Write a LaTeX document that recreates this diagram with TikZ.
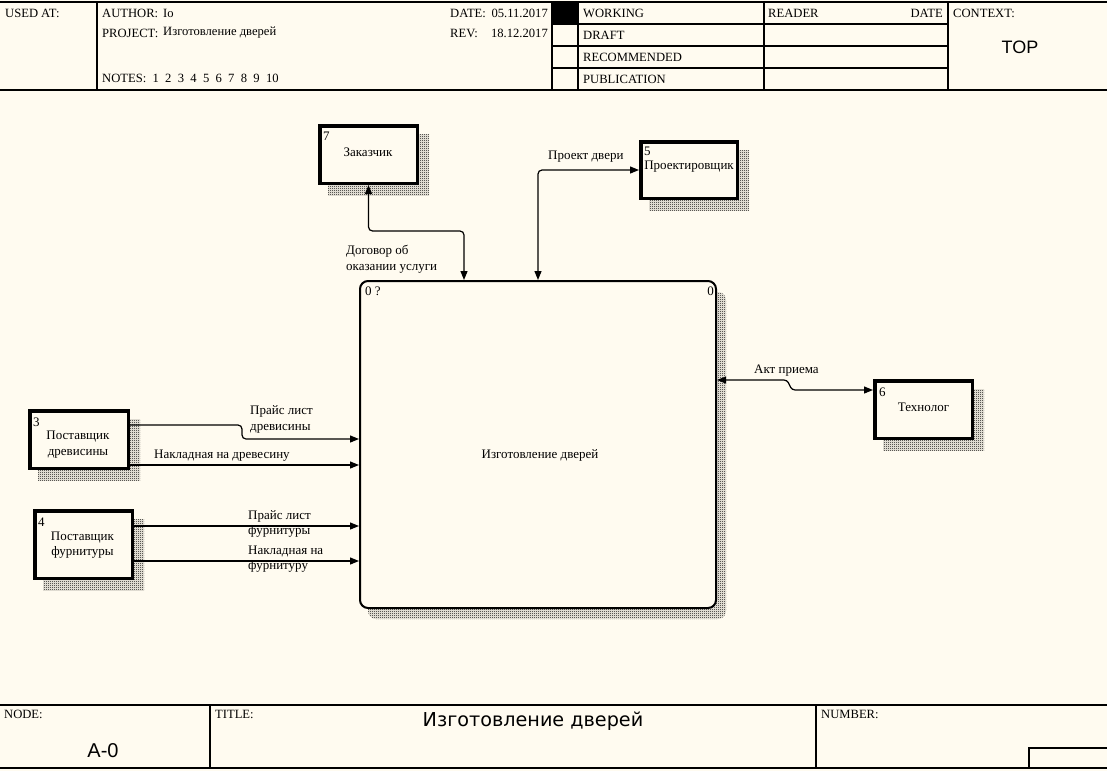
\documentclass[tikz,border=0pt]{standalone}
\usepackage{fontspec}
\setmainfont{Liberation Serif}
\newfontfamily\sansf{Liberation Sans}
\newfontfamily\titlef{DejaVu Sans}
\usetikzlibrary{arrows.meta,calc,patterns.meta}
\definecolor{bgc}{RGB}{255,251,240}
\pgfdeclarelayer{bglayer}
\pgfdeclarelayer{shadowlayer}
\pgfsetlayers{bglayer,shadowlayer,main}
\tikzdeclarepattern{
  name=ckr, type=uncolored,
  bounding box={(0pt,0pt) and (2pt,2pt)},
  tile size={(2pt,2pt)},
  code={\pgfpathrectangle{\pgfpointorigin}{\pgfpoint{1pt}{1pt}}%
        \pgfpathrectangle{\pgfpoint{1pt}{1pt}}{\pgfpoint{1pt}{1pt}}%
        \pgfusepath{fill}}}
\begin{document}
\begin{tikzpicture}[x=1pt,y=-1pt,
  htxt/.style={font=\fontsize{12.6}{15}\selectfont, inner sep=0pt, anchor=west, align=left},
  txt/.style={font=\fontsize{13}{15.5}\selectfont, inner sep=0pt, anchor=west, align=left},
  ctxt/.style={font=\fontsize{13}{15.5}\selectfont, inner sep=0pt, align=center},
  bigtxt/.style={font=\sansf\fontsize{20}{22}\selectfont, inner sep=0pt},
  ebox/.style={draw, fill=bgc, line width=3.5pt, inner sep=0pt, outer sep=1.75pt},
  mbox/.style={draw, fill=bgc, line width=2pt, inner sep=0pt, outer sep=1pt, rounded corners=8pt},
  shad/.style={pattern=ckr, pattern color=black},
  hl/.style={line width=1.2pt},
  hlt/.style={line width=2pt},
  arr/.style={line width=1.2pt, -{Triangle[length=9pt,width=7pt]}},
  biarr/.style={line width=1.2pt, {Triangle[length=9pt,width=7pt]}-{Triangle[length=9pt,width=7pt]}, rounded corners=4pt},
  jarr/.style={arr, rounded corners=4pt}
]
\useasboundingbox (0,0) rectangle (1107,771);
\begin{pgfonlayer}{bglayer}
\fill[bgc] (0,0) rectangle (1107,771);
\end{pgfonlayer}

% ---------- header ----------
\draw[hlt] (0,2) -- (1107,2);
\draw[hlt] (0,90) -- (1107,90);
\draw[hl] (97,2) -- (97,90);
\draw[hl] (552,2) -- (552,90);
\draw[hl] (578,2) -- (578,90);
\draw[hl] (764,2) -- (764,90);
\draw[hl] (948,2) -- (948,90);
\draw[hl] (552,24) -- (948,24);
\draw[hl] (552,46) -- (948,46);
\draw[hl] (552,68) -- (948,68);
\fill (552,2) rectangle (578,24);

\node[htxt] (usedat) at (5,13) {USED AT:};
\node[htxt] (author) at (102,13) {AUTHOR:};
\node[htxt] (authorv) at (163,13) {Io};
\node[htxt] (project) at (102,33) {PROJECT:};
\node[htxt] (projectv) at (163,33) {Изготовление дверей};
\node[htxt] (notes) at (102,78) {NOTES:~~1~~2~~3~~4~~5~~6~~7~~8~~9~~10};
\node[htxt] (date) at (450,13) {DATE:};
\node[htxt, anchor=east] (datev) at (548,13) {05.11.2017};
\node[htxt] (rev) at (450,33) {REV:};
\node[htxt, anchor=east] (revv) at (548,33) {18.12.2017};
\node[htxt] (working) at (583,13) {WORKING};
\node[htxt] (draft) at (583,35) {DRAFT};
\node[htxt] (recom) at (583,57) {RECOMMENDED};
\node[htxt] (publ) at (583,79) {PUBLICATION};
\node[htxt] (reader) at (768,13) {READER};
\node[htxt, anchor=east] (rdate) at (943,13) {DATE};
\node[htxt] (context) at (953,13) {CONTEXT:};
\node[bigtxt, font=\sansf\fontsize{18}{20}\selectfont] (top) at (1020,47) {TOP};

% ---------- footer ----------
\draw[hlt] (0,705) -- (1107,705);
\draw[hlt] (0,768) -- (1107,768);
\draw[hl] (210,705) -- (210,768);
\draw[hl] (816,705) -- (816,768);
\draw[hl] (1029,768) -- (1029,748) -- (1107,748);
\node[htxt] (nodel) at (4,714) {NODE:};
\node[htxt] (titlel) at (215,714) {TITLE:};
\node[htxt] (numberl) at (821,714) {NUMBER:};
\node[bigtxt] (nodev) at (103,751) {A-0};
\node[bigtxt, font=\titlef\fontsize{19.2}{22}\selectfont] (titlev) at (533,721) {Изготовление дверей};

% ---------- boxes ----------
\node[mbox, minimum width=356pt, minimum height=327pt] (m) at (538,444.5) {};
\node[ebox, minimum width=97.5pt, minimum height=57.5pt] (z) at (368.5,154.5) {};
\node[ebox, minimum width=96.5pt, minimum height=56.5pt] (p) at (689,170) {};
\node[ebox, minimum width=97.5pt, minimum height=57.5pt] (t) at (923.5,409.5) {};
\node[ebox, minimum width=98.5pt, minimum height=57.5pt] (d) at (79,439.5) {};
\node[ebox, minimum width=97.5pt, minimum height=67.5pt] (f) at (83.5,544.5) {};

\begin{pgfonlayer}{shadowlayer}
\fill[shad, rounded corners=8pt] ($(m.north west)+(9,12)$) rectangle ($(m.south east)+(9,10)$);
\foreach \b in {z,p,t,d,f}{
  \fill[shad] ($(\b.north west)+(10,10)$) rectangle ($(\b.south east)+(10,10)$);
}
\end{pgfonlayer}

% box texts
\node[ctxt] (mtxt) at (540,455) {Изготовление дверей};
\node[txt] (mnum) at (365,291) {0 ?};
\node[txt, anchor=east] (mnum2) at (714,291) {0};
\node[ctxt] (ztxt) at (368,152) {Заказчик};
\node[txt] (znum) at (323,136) {7};
\node[ctxt] (ptxt) at (689,167) {Проектировщик};
\node[txt] (pnum) at (644,151) {5};
\node[ctxt] (ttxt) at (923.5,407) {Технолог};
\node[txt] (tnum) at (879,392) {6};
\node[ctxt] (dtxt) at (78,444.5) {Поставщик\\древисины};
\node[txt] (dnum) at (33,422) {3};
\node[ctxt] (ftxt) at (82.5,545) {Поставщик\\фурнитуры};
\node[txt] (fnum) at (38,522) {4};

% ---------- connectors ----------
\coordinate (m1) at ($(m.north west)+(105,0)$);
\draw[biarr] (z.south) |- ($(m1)+(0,-49)$) -- (m1);
\draw[biarr] (m.north) |- (p.west);
\coordinate (m2) at ($(m.north east)+(0,100)$);
\coordinate (t1) at ($(t.north west)+(0,11)$);
\draw[line width=1.2pt, {Triangle[length=9pt,width=7pt]}-{Triangle[length=9pt,width=7pt]}, rounded corners=3pt]
  (m2) -- ++(70,0) -- ++(5,10) -- (t1);
\coordinate (d1) at ($(d.north east)+(0,16)$);
\coordinate (m3) at ($(m.north west)+(0,159)$);
\draw[jarr] (d1) -- ++(112,0) |- (m3);
\coordinate (d2) at ($(d.north east)+(0,56)$);
\draw[arr] (d2) -- (d2 -| m.west);
\coordinate (f1) at ($(f.north east)+(0,17)$);
\draw[arr] (f1) -- (f1 -| m.west);
\coordinate (f2) at ($(f.north east)+(0,52)$);
\draw[arr] (f2) -- (f2 -| m.west);

% connector labels
\node[txt] (l1) at (346,259) {Договор об\\оказании услуги};
\node[txt] (l2) at (548,157) {Проект двери};
\node[txt] (l3) at (754,371) {Акт приема};
\node[txt] (l4) at (250,419.5) {Прайс лист\\древисины};
\node[txt] (l5) at (154,456) {Накладная на древесину};
\node[txt] (l6) at (248,524) {Прайс лист\\фурнитуры};
\node[txt] (l7) at (248,559) {Накладная на\\фурнитуру};
\end{tikzpicture}
\end{document}
